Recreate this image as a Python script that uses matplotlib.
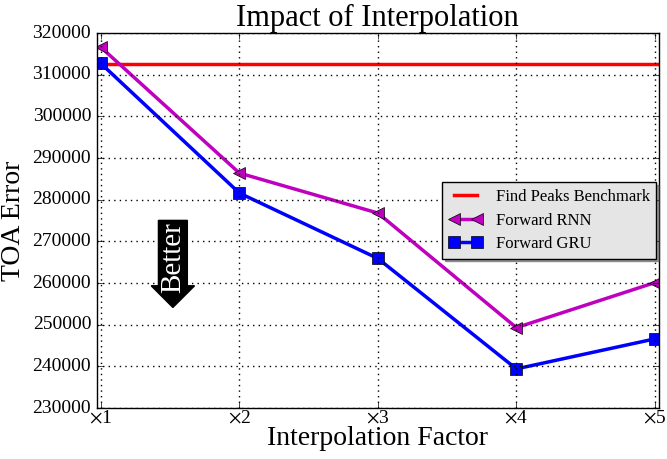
import numpy as np
import matplotlib.pyplot as plt

plt.style.use('classic')
plt.rcParams['font.family'] = ['Liberation Serif', 'DejaVu Serif']
plt.rcParams['mathtext.fontset'] = 'stix'

factors = [1, 2, 3, 4, 5]
factor_labels = [r'$\times$1', r'$\times$2', r'$\times$3', r'$\times$4', r'$\times$5']
benchmark = 312600
rnn_err = [316600, 286400, 276800, 249300, 260100]
gru_err = [312700, 281600, 265900, 239400, 246600]

fig = plt.figure(figsize=(6.67, 4.59), dpi=100, facecolor='white')
ax = fig.add_axes([0.145, 0.111, 0.843, 0.817])

ax.axhline(benchmark, color='r', lw=2.5, label='Find Peaks Benchmark')
ax.plot(factors, rnn_err, color='m', lw=2.5, marker='<', markersize=9,
        markerfacecolor='m', markeredgecolor='k', label='Forward RNN')
ax.plot(factors, gru_err, color='b', lw=2.5, marker='s', markersize=8,
        markerfacecolor='b', markeredgecolor='k', label='Forward GRU')

ax.set_xlim(0.97, 5.03)
ax.set_ylim(230000, 320000)
ax.set_xticks(factors)
ax.set_xticklabels(factor_labels, fontsize=14)
ax.set_yticks(np.arange(230000, 320001, 10000))
ax.set_yticklabels([str(v) for v in range(230000, 320001, 10000)], fontsize=14)
ax.tick_params(axis='x', pad=1)
ax.grid(True, color='k', linestyle=':', lw=1)

ax.set_title('Impact of Interpolation', fontsize=22, y=1.0)
ax.set_xlabel('Interpolation Factor', fontsize=20, labelpad=0)
ax.set_ylabel('TOA Error', fontsize=20)

# "Better" arrow pointing down
ax.text(1.52, 266200, 'Better', rotation=90, color='white', fontsize=21,
        ha='center', va='center',
        bbox=dict(boxstyle='larrow,pad=0.05', fc='black', ec='black'))

leg = ax.legend(loc='center right', fontsize=12, shadow=True, numpoints=2,
                fancybox=False, borderaxespad=0.15, handlelength=2.0,
                labelspacing=0.45)
leg.get_frame().set_facecolor('#e5e5e5')

fig.savefig('out.png', dpi=100, facecolor='white')
